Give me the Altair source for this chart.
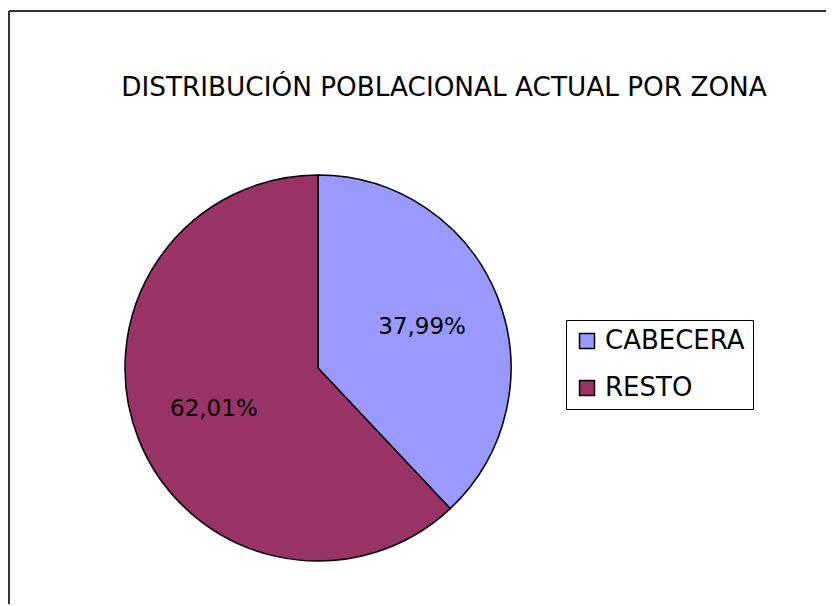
import altair as alt
import pandas as pd

categories = ["CABECERA", "RESTO"]
values = [37.99, 62.01]
colors = ["#9999FF", "#993366"]
title_text = "DISTRIBUCIÓN POBLACIONAL ACTUAL POR ZONA"

labels = [f"{v:.2f}".replace(".", ",") + "%" for v in values]
df = pd.DataFrame({"zona": categories, "valor": values, "etiqueta": labels,
                   "orden": list(range(len(categories)))})

FONT = "DejaVu Sans"
cx, cy = 310, 360

base = alt.Chart(df).encode(
    theta=alt.Theta("valor:Q", stack=True),
    order=alt.Order("orden:Q"),
)

pie = base.mark_arc(radius=193, stroke="black", strokeWidth=1.5).encode(
    x=alt.value(cx), y=alt.value(cy),
    color=alt.Color("zona:N", scale=alt.Scale(domain=categories, range=colors),
                    sort=categories,
                    legend=alt.Legend(title=None, orient="none", legendX=558, legendY=312)),
)

text = base.mark_text(radius=112, font=FONT, fontSize=23, color="black").encode(
    x=alt.value(cx), y=alt.value(cy),
    text="etiqueta:N",
)

title = alt.Chart(pd.DataFrame({"t": [title_text]})).mark_text(
    font=FONT, fontSize=26.3, color="black", baseline="alphabetic", align="center"
).encode(text="t:N", x=alt.value(436), y=alt.value(88))

frame_top = alt.Chart(pd.DataFrame({"a": [0]})).mark_rule(color="#333333", strokeWidth=2).encode(
    x=alt.value(1), x2=alt.value(818), y=alt.value(3))
frame_left = alt.Chart(pd.DataFrame({"a": [0]})).mark_rule(color="#333333", strokeWidth=2).encode(
    x=alt.value(1), y=alt.value(3), y2=alt.value(600))

chart = alt.layer(frame_top, frame_left, title, pie, text).properties(
    width=818, height=596, padding=0,
    autosize=alt.AutoSizeParams(type="none"),
).configure_view(stroke="transparent", strokeWidth=0).configure_legend(
    strokeColor="black", fillColor="white", padding=8, symbolType="square",
    symbolSize=225, symbolStrokeColor="black", symbolStrokeWidth=1.5,
    labelFont=FONT, labelFontSize=26, labelColor="black", rowPadding=21,
    labelOffset=5, labelLimit=400,
)

chart.save("out.html", embed_options={"renderer": "svg", "actions": False})
